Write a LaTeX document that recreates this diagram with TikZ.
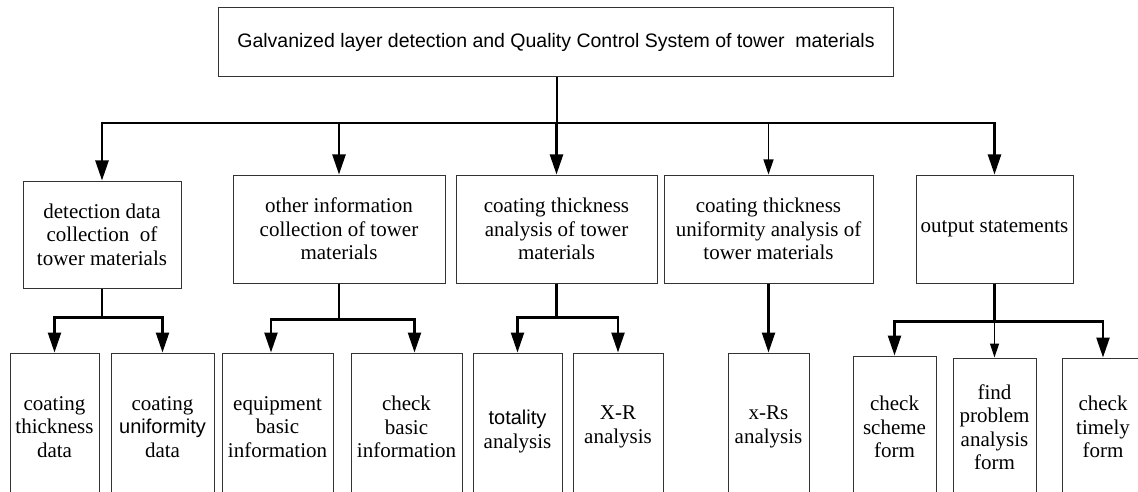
\documentclass[tikz,border=0pt]{standalone}
\usepackage{fontspec}
\setmainfont{Liberation Serif}
\newfontfamily\tah{Liberation Sans}
\usetikzlibrary{arrows.meta,calc}
\begin{document}
\begin{tikzpicture}[x=1pt,y=1pt,
  box/.style={draw=black!80, line width=1pt, align=center, inner sep=0pt,
    font=\fontsize{21}{23.5}\selectfont},
  thk/.style={line width=2.4pt},
  arr/.style={thk, -{Triangle[length=20pt,width=13pt]}},
  tarr/.style={line width=1.2pt, -{Triangle[length=15pt,width=10pt]}},
  sarr/.style={line width=1.2pt, -{Triangle[length=14pt,width=9pt]}},
]
\useasboundingbox (0,0) rectangle (1138,-492);
\fill[white] (0,0) rectangle (1138,-492);

% top
\node[box, minimum width=675, minimum height=69,
  font=\tah\fontsize{19.5}{22}\selectfont] (top) at (556,-42.5)
  {Galvanized layer detection and Quality Control System of tower~~materials};

% level 2
\node[box, minimum width=158, minimum height=107] (B1) at (102,-234.5)
  {detection data\\collection~~of\\tower materials};
\node[box, minimum width=212, minimum height=108] (B2) at (339,-229)
  {other information\\collection of tower\\materials};
\node[box, minimum width=201, minimum height=108] (B3) at (556.5,-229)
  {coating thickness\\analysis of tower\\materials};
\node[box, minimum width=209, minimum height=108] (B4) at (768.5,-229)
  {coating thickness\\uniformity analysis of\\tower materials};
\node[box, minimum width=157, minimum height=108] (B5) at (994.5,-229)
  {output statements};

% leaves
\node[box, minimum width=89, minimum height=148] (L1) at (54.5,-427)
  {coating\\thickness\\data};
\node[box, minimum width=103, minimum height=148] (L2) at (162.5,-427)
  {coating\\{\tah\fontsize{20}{23.5}\selectfont uniformity}\\data};
\node[box, minimum width=111, minimum height=148] (L3) at (277.5,-427)
  {equipment\\basic\\information};
\node[box, minimum width=111, minimum height=148] (L4) at (406.5,-427)
  {check\\basic\\information};
\node[box, minimum width=89, minimum height=148] (L5) at (517.5,-427)
  {\mbox{}\\{\tah\fontsize{20}{23.5}\selectfont totality}\\analysis};
\node[box, minimum width=90, minimum height=148] (L6) at (618,-427)
  {X-R\\analysis};
\node[box, minimum width=81, minimum height=148] (L7) at (768.5,-427)
  {x-Rs\\analysis};
\node[box, minimum width=83, minimum height=142] (L8) at (894.5,-427)
  {check\\scheme\\form};
\node[box, minimum width=83, minimum height=138] (L9) at (994.5,-427)
  {find\\problem\\analysis\\form};
\node[box, minimum width=82, minimum height=138] (L10) at (1103,-427)
  {check\\timely\\form};

% main bus
\coordinate (bus) at (557,-123);
\draw[thk] (top.south -| bus) -- (bus);
\draw[arr] (bus) -| (B1.north);
\draw[arr] (bus) -| (B5.north);
\draw[arr] (B2.north |- bus) -- (B2.north);
\draw[arr] (B3.north |- bus) -- (B3.north);
\draw[tarr] (B4.north |- bus) -- (B4.north);

% sub buses
\draw[arr] (B1.south) -- ++(0,-29) -| (L1.north);
\draw[arr] (B1.south) -- ++(0,-29) -| (L2.north);
\draw[arr] (B2.south) -- ++(0,-36) -| ([xshift=-6.5pt]L3.north);
\draw[arr] (B2.south) -- ++(0,-36) -| ([xshift=8pt]L4.north);
\draw[arr] (B3.south) -- ++(0,-34) -| (L5.north);
\draw[arr] (B3.south) -- ++(0,-34) -| (L6.north);
\draw[arr] (B4.south) -- (L7.north);
\draw[arr] (B5.south) -- ++(0,-38) -| (L8.north);
\draw[arr] (B5.south) -- ++(0,-38) -| (L10.north);
\draw[sarr] ($(B5.south)+(0,-38)$) -- (L9.north);
\end{tikzpicture}
\end{document}
